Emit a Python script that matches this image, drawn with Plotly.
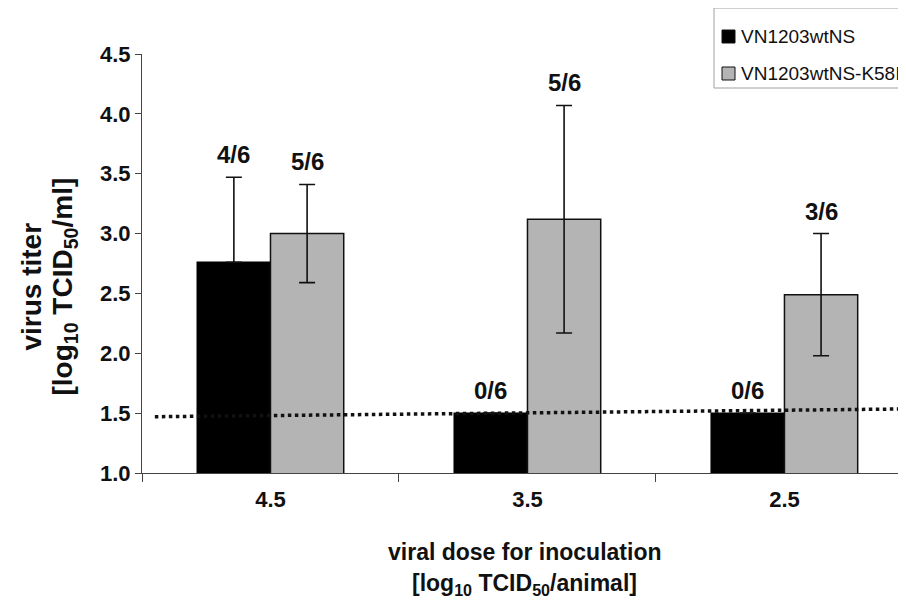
import plotly.graph_objects as go

# ---- data ----
doses = ["4.5", "3.5", "2.5"]
series_names = ["VN1203wtNS", "VN1203wtNS-K58I"]
series_colors = ["#000000", "#b4b4b4"]
wt_mean = [2.76, 1.50, 1.50]
wt_err = [0.71, 0.0, 0.0]
k58i_mean = [3.00, 3.12, 2.49]
k58i_err = [0.41, 0.95, 0.51]
wt_ratio = ["4/6", "0/6", "0/6"]
k58i_ratio = ["5/6", "5/6", "3/6"]
detect_start = 1.47
detect_end = 1.535
y_ticks = [1.0, 1.5, 2.0, 2.5, 3.0, 3.5, 4.0, 4.5]

FONT = "Liberation Sans"

# plot-area geometry in screen pixels (used for paper-coordinate placement)
PL, PR, PT, PB = 142, 906, 54, 473


def px(x):
    return (x - PL) / (PR - PL)


def py(y):
    return (PB - y) / (PB - PT)


fig = go.Figure()
fig.add_trace(go.Bar(
    x=doses, y=wt_mean, name=series_names[0], showlegend=False,
    marker=dict(color=series_colors[0], line=dict(color="#000000", width=1.5)),
    error_y=dict(type="data", array=wt_err, arrayminus=[0] * len(wt_err), symmetric=False,
                 color="#111111", thickness=1.6, width=8),
))
fig.add_trace(go.Bar(
    x=doses, y=k58i_mean, name=series_names[1], showlegend=False,
    marker=dict(color=series_colors[1], line=dict(color="#111111", width=1.5)),
    error_y=dict(type="data", array=k58i_err, symmetric=True, color="#111111", thickness=1.6, width=8),
))

half = 0.1425
annotations = []
for i in range(len(doses)):
    annotations.append(dict(x=i - half, y=wt_mean[i] + wt_err[i], text="<b>%s</b>" % wt_ratio[i],
                            xref="x", yref="y", showarrow=False, yanchor="bottom", yshift=7,
                            font=dict(family=FONT, size=24, color="#111")))
    annotations.append(dict(x=i + half, y=k58i_mean[i] + k58i_err[i], text="<b>%s</b>" % k58i_ratio[i],
                            xref="x", yref="y", showarrow=False, yanchor="bottom", yshift=7,
                            font=dict(family=FONT, size=24, color="#111")))

# axis titles
annotations.append(dict(x=px(32), y=0.445, xref="paper", yref="paper", text="<b>virus titer</b>",
                        xanchor="center", yanchor="middle",
                        textangle=-90, showarrow=False, font=dict(family=FONT, size=28, color="#111")))
annotations.append(dict(x=px(65), y=0.445, xref="paper", yref="paper",
                        text="<b>[log<sub>10</sub> TCID<sub>50</sub>/ml]</b>",
                        xanchor="center", yanchor="middle",
                        textangle=-90, showarrow=False, font=dict(family=FONT, size=28, color="#111")))
annotations.append(dict(x=0.5, y=-0.188, xref="paper", yref="paper", text="<b>viral dose for inoculation</b>",
                        xanchor="center", yanchor="middle",
                        showarrow=False, font=dict(family=FONT, size=23, color="#111")))
annotations.append(dict(x=0.5, y=-0.267, xref="paper", yref="paper",
                        text="<b>[log<sub>10</sub> TCID<sub>50</sub>/animal]</b>",
                        xanchor="center", yanchor="middle",
                        showarrow=False, font=dict(family=FONT, size=23, color="#111")))

shapes = [dict(type="line", xref="x", yref="y", x0=-0.45, x1=2.473,
               y0=detect_start, y1=detect_end, layer="above",
               line=dict(color="#111111", width=3.5, dash="dot"))]

# legend box (cut by the right edge, as in the reference)
shapes.append(dict(type="rect", xref="paper", yref="paper", x0=px(714), x1=px(920),
                   y0=py(88), y1=py(8), layer="above",
                   line=dict(color="#a0a0a0", width=1), fillcolor="white"))
legend_rows = [36.5, 73.5]
for name, color, yc in zip(series_names, series_colors, legend_rows):
    shapes.append(dict(type="rect", xref="paper", yref="paper", x0=px(722), x1=px(735),
                       y0=py(yc + 6.5), y1=py(yc - 6.5), layer="above",
                       line=dict(color="#111111", width=1), fillcolor=color))
    annotations.append(dict(x=px(739), y=py(yc), xref="paper", yref="paper", text=name,
                            xanchor="left", yanchor="middle", showarrow=False,
                            font=dict(family=FONT, size=19, color="#111")))

fig.update_layout(
    width=898, height=597, autosize=False,
    margin=dict(l=134, r=0, t=46, b=132, autoexpand=False),
    paper_bgcolor="white", plot_bgcolor="white",
    barmode="group", bargap=0.43, bargroupgap=0,
    showlegend=False,
    annotations=annotations,
    shapes=shapes,
    xaxis=dict(type="category", range=[-0.5, 2.473], tickson="boundaries",
               ticks="outside", ticklen=8, tickcolor="#444", tickwidth=1.2,
               showline=True, linecolor="#444", linewidth=1.2, showgrid=False,
               ticklabelstandoff=6,
               tickfont=dict(family=FONT, size=22, color="#111", weight="bold")),
    yaxis=dict(range=[1.0, 4.5], tickvals=y_ticks, ticktext=["%.1f" % v for v in y_ticks],
               ticks="outside", ticklen=6, tickcolor="#444", tickwidth=1.2,
               showline=True, linecolor="#444", linewidth=1.2, showgrid=False, zeroline=False,
               tickfont=dict(family=FONT, size=22, color="#111", weight="bold")),
)

fig.write_html("out.html")
